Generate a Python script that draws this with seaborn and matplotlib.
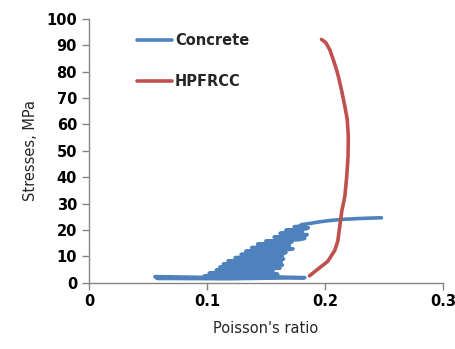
import numpy as np
import pandas as pd

import matplotlib
matplotlib.use('Agg')
import matplotlib.pyplot as plt
import seaborn as sns

sns.set_theme(style='ticks')
plt.rcParams['font.family'] = ['DejaVu Sans']

# -----------------------------------------------------------------------------
# stress vs poisson's ratio
# -----------------------------------------------------------------------------

# concrete: dense zigzag of the measurement
concrete_nu = [0.100, 0.056, 0.058, 0.120, 0.183, 0.150, 0.098, 0.140, 0.160, 0.102,
               0.150, 0.156, 0.108, 0.140, 0.162, 0.111, 0.150, 0.164, 0.114, 0.158,
               0.163, 0.118, 0.150, 0.165, 0.124, 0.160, 0.164, 0.129, 0.150, 0.167,
               0.133, 0.165, 0.173, 0.138, 0.160, 0.170, 0.143, 0.166, 0.172, 0.150,
               0.178, 0.183, 0.157, 0.175, 0.185, 0.162, 0.178, 0.181, 0.167, 0.184,
               0.186, 0.174, 0.183, 0.180, 0.188, 0.196, 0.205, 0.215, 0.228, 0.240,
               0.248]
concrete_stress = [2.0, 2.3, 1.6, 1.5, 1.9, 2.3, 2.6, 2.9, 3.2, 3.6,
                   3.9, 4.4, 4.8, 5.1, 5.5, 5.9, 6.2, 6.7, 7.1, 7.4,
                   7.9, 8.3, 8.6, 9.0, 9.5, 9.8, 10.2, 10.7, 11.0, 11.4,
                   11.9, 12.3, 12.8, 13.3, 13.6, 14.1, 14.6, 15.0, 15.4, 15.8,
                   16.3, 16.8, 17.3, 17.7, 18.2, 18.7, 19.1, 19.5, 19.9, 20.4,
                   20.8, 21.2, 21.6, 22.0, 22.5, 23.1, 23.6, 24.0, 24.3, 24.5,
                   24.6]

# HPFRCC
hpfrcc_nu = [0.187, 0.192, 0.2025, 0.2085, 0.211, 0.2127, 0.2144, 0.217, 0.2186, 0.2197,
             0.2199, 0.219, 0.217, 0.2144, 0.2119, 0.2099, 0.2068, 0.2042, 0.2008, 0.1972]
hpfrcc_stress = [2.6, 4.4, 8.1, 12.3, 15.8, 21.5, 27.2, 32.8, 40.4, 47.9,
                 55.5, 61.9, 66.8, 72.5, 77.4, 80.8, 85.0, 88.3, 91.0, 92.2]

series = ['Concrete', 'HPFRCC']
colors = ['#4F81BD', '#C0504D']

df = pd.concat([
    pd.DataFrame({'nu': concrete_nu, 'stress': concrete_stress, 'Material': series[0]}),
    pd.DataFrame({'nu': hpfrcc_nu, 'stress': hpfrcc_stress, 'Material': series[1]}),
], ignore_index=True)

# -----------------------------------------------------------------------------
# plot
# -----------------------------------------------------------------------------

fig, ax = plt.subplots(figsize=(4.56, 3.49), dpi=100)
fig.subplots_adjust(left=0.195, right=0.971, bottom=0.19, top=0.946)

sns.lineplot(data=df, x='nu', y='stress', hue='Material', hue_order=series,
             palette=colors, sort=False, estimator=None, units='Material',
             linewidth=2.6, ax=ax)

ax.set_xlim(0, 0.3)
ax.set_ylim(0, 100)
ax.set_xticks([0, 0.1, 0.2, 0.3])
ax.set_xticklabels(['0', '0.1', '0.2', '0.3'])
ax.set_yticks(range(0, 101, 10))

for side in ['top', 'right']:
    ax.spines[side].set_visible(False)
for side in ['left', 'bottom']:
    ax.spines[side].set_color('#868686')
    ax.spines[side].set_linewidth(1.0)
ax.tick_params(colors='#868686', length=5, width=1.0, labelcolor='black', labelsize=10.5)
for lab in ax.get_xticklabels() + ax.get_yticklabels():
    lab.set_fontweight('bold')

ax.set_xlabel("Poisson's ratio", fontsize=10.5, labelpad=8)
ax.set_ylabel('Stresses, MPa', fontsize=10.5, labelpad=6)

leg = ax.legend(loc='upper left', bbox_to_anchor=(0.136, 0.945), frameon=False,
                borderpad=0, borderaxespad=0, handlelength=2.4, handletextpad=0.2,
                labelspacing=1.75, prop={'size': 10.5, 'weight': 'bold'})
for line in leg.get_lines():
    line.set_linewidth(2.6)

fig.savefig('out.png', dpi=100)
plt.close('all')
